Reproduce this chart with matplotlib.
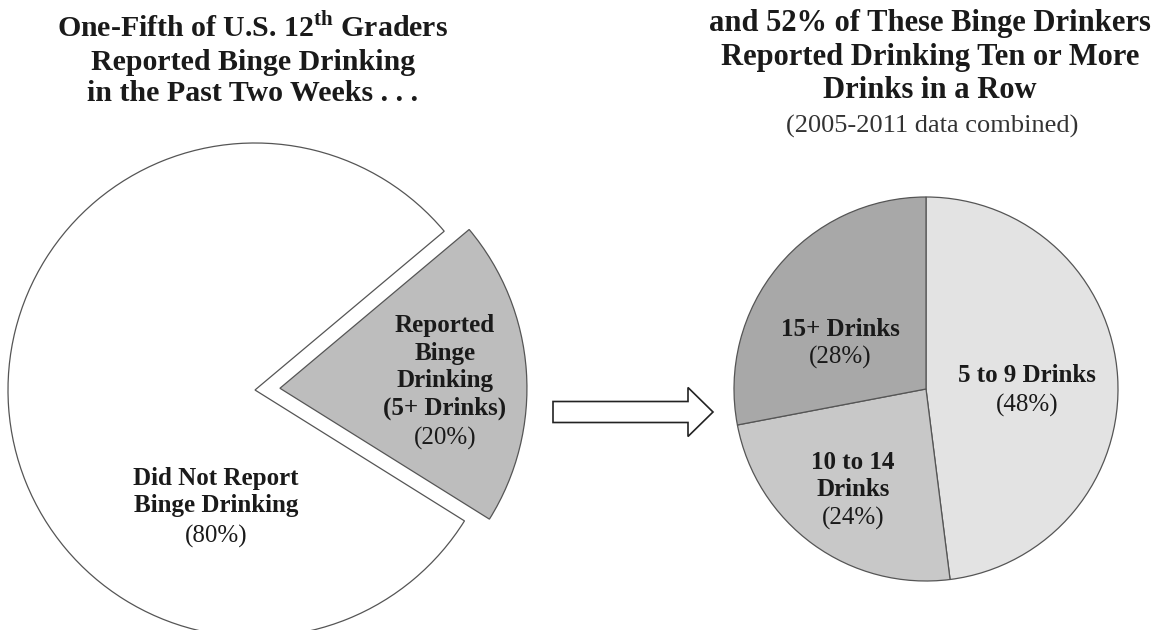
import numpy as np
import matplotlib
matplotlib.use("Agg")
from matplotlib import pyplot as plt
from matplotlib.patches import FancyArrow

plt.rcParams['font.family'] = ['Liberation Serif', 'DejaVu Serif']
plt.rcParams['mathtext.fontset'] = 'custom'
plt.rcParams['mathtext.bf'] = 'Liberation Serif:bold'
plt.rcParams['mathtext.rm'] = 'Liberation Serif:bold'

# Left pie: all 12th graders
left_names = ["Did Not Report\nBinge Drinking", "Reported\nBinge\nDrinking\n(5+ Drinks)"]
left_values = [80, 20]
left_colors = ["#ffffff", "#bdbdbd"]

# Right pie: binge drinkers by max drinks in a row
right_names = ["5 to 9 Drinks", "10 to 14\nDrinks", "15+ Drinks"]
right_values = [48, 24, 28]
right_colors = ["#e3e3e3", "#c8c8c8", "#a8a8a8"]

left_title = "One-Fifth of U.S. 12$^{\\mathbf{th}}$ Graders\nReported Binge Drinking\nin the Past Two Weeks . . ."
right_title = "and 52% of These Binge Drinkers\nReported Drinking Ten or More\nDrinks in a Row"
right_subtitle = "(2005-2011 data combined)"

W, H = 1165, 630
fig = plt.figure(figsize=(W / 100, H / 100), dpi=100)
ax = fig.add_axes([0, 0, 1, 1])
ax.set_xlim(0, W)
ax.set_ylim(0, H)
ax.set_aspect('equal')
ax.axis('off')

# left pie, gray wedge pulled out
ax.pie(left_values, colors=left_colors, startangle=40, counterclock=True,
       center=(255, H - 390), radius=247, explode=[0, 25],
       wedgeprops=dict(edgecolor="#555555", linewidth=0.9))

# right pie
ax.pie(right_values, colors=right_colors, startangle=90, counterclock=False,
       center=(926, H - 389), radius=192,
       wedgeprops=dict(edgecolor="#555555", linewidth=0.9))
ax.set_xlim(0, W)
ax.set_ylim(0, H)

lab = dict(ha='center', va='center', fontsize=18, color='#1a1a1a')
lab_pos_left = [(216, 492, 536), (445, 367, 438)]
for name, v, (x, y, yp) in zip(left_names, left_values, lab_pos_left):
    ax.text(x, H - y, name, fontweight='bold', linespacing=1.24, **lab)
    ax.text(x, H - yp, "({}%)".format(v), **lab)

lab_pos_right = [(1027, 376, 405), (853, 476, 518), (840, 330, 357)]
for name, v, (x, y, yp) in zip(right_names, right_values, lab_pos_right):
    ax.text(x, H - y, name, fontweight='bold', linespacing=1.24, **lab)
    ax.text(x, H - yp, "({}%)".format(v), **lab)

# titles
ax.text(253, H - 60, left_title, ha='center', va='center', fontsize=21.5,
        fontweight='bold', linespacing=1.22, color='#1a1a1a')
ax.text(930, H - 57, right_title, ha='center', va='center', fontsize=22,
        fontweight='bold', linespacing=1.22, color='#1a1a1a')
ax.text(932, H - 126, right_subtitle, ha='center', va='center', fontsize=19,
        color='#333333')

# block arrow between the pies
ax.add_patch(FancyArrow(553, H - 412, 160, 0, width=21, head_width=49,
                        head_length=25, length_includes_head=True,
                        facecolor='white', edgecolor='#222222', linewidth=1.2))

fig.savefig("out.png", dpi=100)
